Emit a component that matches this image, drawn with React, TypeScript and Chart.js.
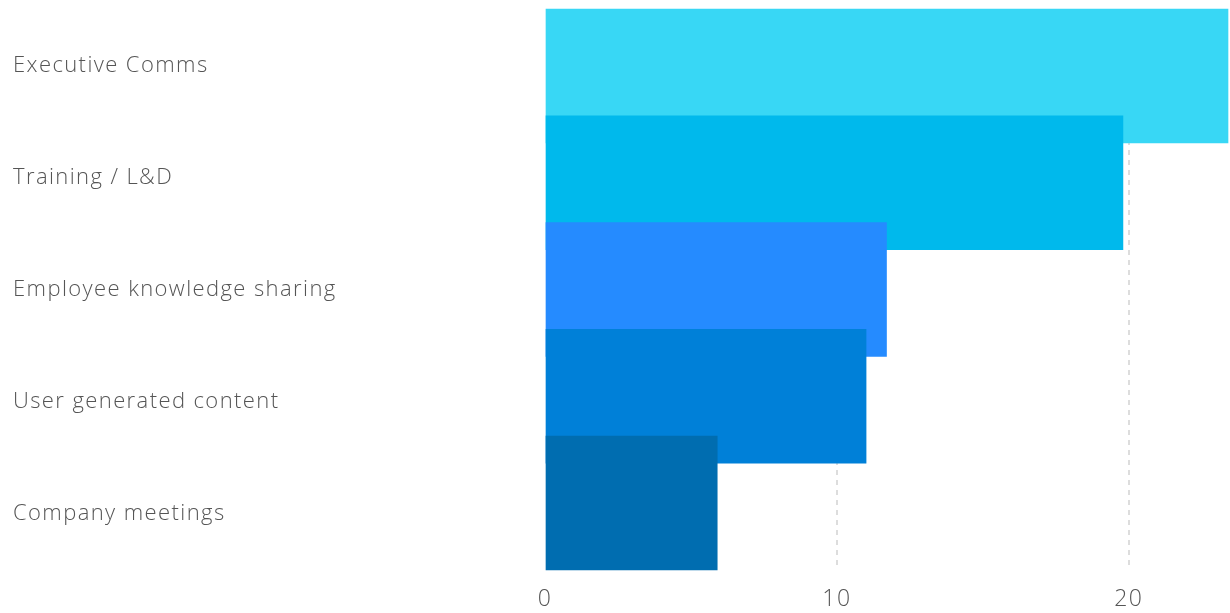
import React, { useEffect, useRef } from "react";
import { Chart, registerables } from "chart.js";

Chart.register(...registerables);

const categories = [
  "Executive Comms",
  "Training / L&D",
  "Employee knowledge sharing",
  "User generated content",
  "Company meetings",
];
const values = [23.4, 19.8, 11.7, 11.0, 5.9];
const barColors = ["#38D7F5", "#00B9EC", "#258BFF", "#0080D8", "#006DB0"];
const xMax = 23.4;
const xStep = 10;

const spacingPlugin = {
  id: "letterSpacing",
  beforeDraw(chart: any) {
    chart.ctx.letterSpacing = "1.4px";
  },
};

export default function App() {
  const ref = useRef<HTMLCanvasElement | null>(null);

  useEffect(() => {
    if (!ref.current) return;
    const chart = new Chart(ref.current, {
      type: "bar",
      data: {
        labels: categories,
        datasets: [
          {
            data: values.map((v, i) => ({ x: v, y: i })) as any,
            backgroundColor: barColors,
            barThickness: 134,
            clip: false as any,
            yAxisID: "yBars",
          },
        ],
      },
      plugins: [spacingPlugin],
      options: {
        indexAxis: "y",
        animation: false,
        responsive: false,
        maintainAspectRatio: false,
        layout: { padding: { left: 13, right: 2, top: 10, bottom: 0 } },
        plugins: { legend: { display: false }, tooltip: { enabled: false } },
        scales: {
          x: {
            type: "linear",
            min: 0,
            max: xMax,
            border: { display: false, dash: [5, 5] },
            grid: {
              color: (ctx: any) => (ctx.tick && ctx.tick.value === 0 ? "rgba(0,0,0,0)" : "#dddddd"),
              lineWidth: 2,
              drawTicks: false,
            },
            ticks: {
              stepSize: xStep,
              includeBounds: false,
              color: "#555555",
              padding: 16,
              font: { family: "Open Sans", size: 23, weight: "300" },
            },
            afterFit: (s: any) => {
              s.height = 43;
              s.paddingLeft = 0;
              s.paddingRight = 0;
            },
          },
          y: {
            type: "category",
            offset: true,
            position: "left",
            border: { display: false },
            grid: { display: false, drawTicks: false },
            ticks: {
              crossAlign: "far",
              color: "#555555",
              padding: 0,
              font: { family: "Open Sans", size: 22, weight: "300" },
            },
            afterFit: (s: any) => {
              s.width = 532;
              s.paddingTop = 0;
              s.paddingBottom = 0;
            },
          },
          yBars: {
            type: "linear",
            position: "left",
            display: false,
            reverse: true,
            offset: false,
            min: -0.618,
            max: 4.628,
            grid: { display: false },
          },
        },
      } as any,
    });
    return () => chart.destroy();
  }, []);

  return (
    <div style={{ position: "absolute", left: 0, top: 0, width: 1230, height: 613, background: "#fff" }}>
      <canvas ref={ref} width={1230} height={613} style={{ display: "block" }} />
    </div>
  );
}
